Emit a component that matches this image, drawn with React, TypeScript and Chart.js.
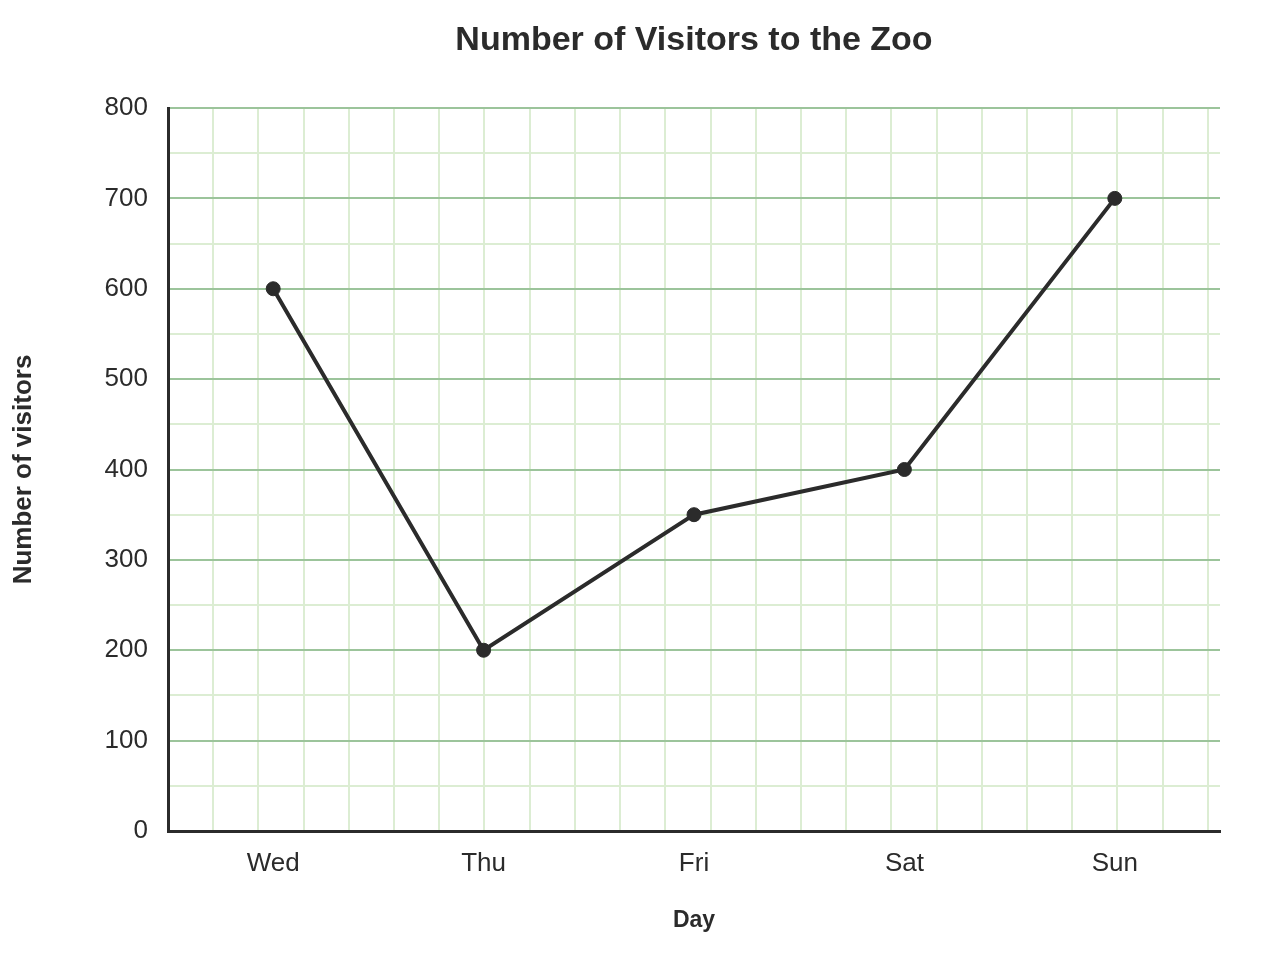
import { useEffect, useRef } from "react";
import Chart from "chart.js/auto";

const days = ["Wed", "Thu", "Fri", "Sat", "Sun"];
const visitors = [600, 200, 350, 400, 700];
const yMin = 0;
const yMax = 800;
// background squares follow the 50-visitor spacing on y
const gridCells = 23.27;

const majorGreen = "#9cc49b";
const minorGreen = "#dcedd3";
const ink = "#2b2b2b";
const fontFamily = "'Liberation Sans', Arial, sans-serif";

const App: React.FC = () => {
  const chartRef = useRef<HTMLCanvasElement>(null);
  const chartInstance = useRef<Chart | null>(null);

  useEffect(() => {
    document.body.style.margin = "0";
    if (chartRef.current) {
      if (chartInstance.current) {
        chartInstance.current.destroy();
      }
      const ctx = chartRef.current.getContext("2d");
      if (ctx) {
        chartInstance.current = new Chart(ctx, {
          type: "line",
          data: {
            labels: days,
            datasets: [
              {
                label: "Visitors",
                data: visitors,
                borderColor: ink,
                backgroundColor: ink,
                borderWidth: 4,
                pointRadius: 7,
                pointBorderWidth: 1,
                pointBorderColor: ink,
                pointBackgroundColor: ink,
                tension: 0,
                fill: false,
              },
            ],
          },
          options: {
            responsive: true,
            maintainAspectRatio: false,
            animation: false,
            layout: {
              padding: { top: 20, right: 60, left: 0, bottom: 46 },
            },
            plugins: {
              legend: { display: false },
              tooltip: { enabled: false },
              title: { display: false },
            },
            scales: {
              x: {
                type: "category",
                offset: true,
                afterFit: (scale: any) => {
                  scale.height = 103;
                },
                grid: { display: false, drawTicks: false },
                border: { display: true, color: ink, width: 3 },
                ticks: {
                  color: ink,
                  padding: 17,
                  font: { size: 26, family: fontFamily },
                },
                title: {
                  display: true,
                  text: "Day",
                  color: ink,
                  font: { size: 23, weight: "bold", family: fontFamily },
                  padding: { top: 0, bottom: 0 },
                },
              },
              // top axis: carries the chart title (centred over the plot) and the square grid
              xGrid: {
                type: "linear",
                position: "top",
                min: 0,
                max: gridCells,
                afterFit: (scale: any) => {
                  scale.height = 88;
                },
                ticks: { display: false, stepSize: 1, includeBounds: false },
                border: { display: false },
                grid: {
                  drawTicks: false,
                  lineWidth: 2,
                  color: (c: any) =>
                    Number.isInteger(c.tick?.value) ? minorGreen : "transparent",
                },
                title: {
                  display: true,
                  text: "Number of Visitors to the Zoo",
                  color: ink,
                  font: { size: 34, weight: "bold", family: fontFamily },
                  padding: { top: 0, bottom: 0 },
                },
              },
              y: {
                min: yMin,
                max: yMax,
                afterFit: (scale: any) => {
                  scale.width = 168;
                },
                grid: {
                  drawTicks: false,
                  lineWidth: 2,
                  color: (c: any) =>
                    c.tick && c.tick.value % 100 === 0 ? majorGreen : minorGreen,
                },
                border: { display: true, color: ink, width: 3 },
                ticks: {
                  stepSize: 50,
                  autoSkip: false,
                  color: ink,
                  padding: 20,
                  font: { size: 26, family: fontFamily },
                  callback: (value: any) =>
                    Number(value) % 100 === 0 ? String(value) : "",
                },
                title: {
                  display: true,
                  text: "Number of visitors",
                  color: ink,
                  font: { size: 26, weight: "bold", family: fontFamily },
                  padding: { top: 8, bottom: 0 },
                },
              },
            },
          },
        });
      }
    }
    return () => {
      if (chartInstance.current) {
        chartInstance.current.destroy();
        chartInstance.current = null;
      }
    };
  }, []);

  return (
    <div style={{ width: 1280, height: 980, position: "relative", background: "#fff" }}>
      <canvas ref={chartRef} />
    </div>
  );
};

export default App;
